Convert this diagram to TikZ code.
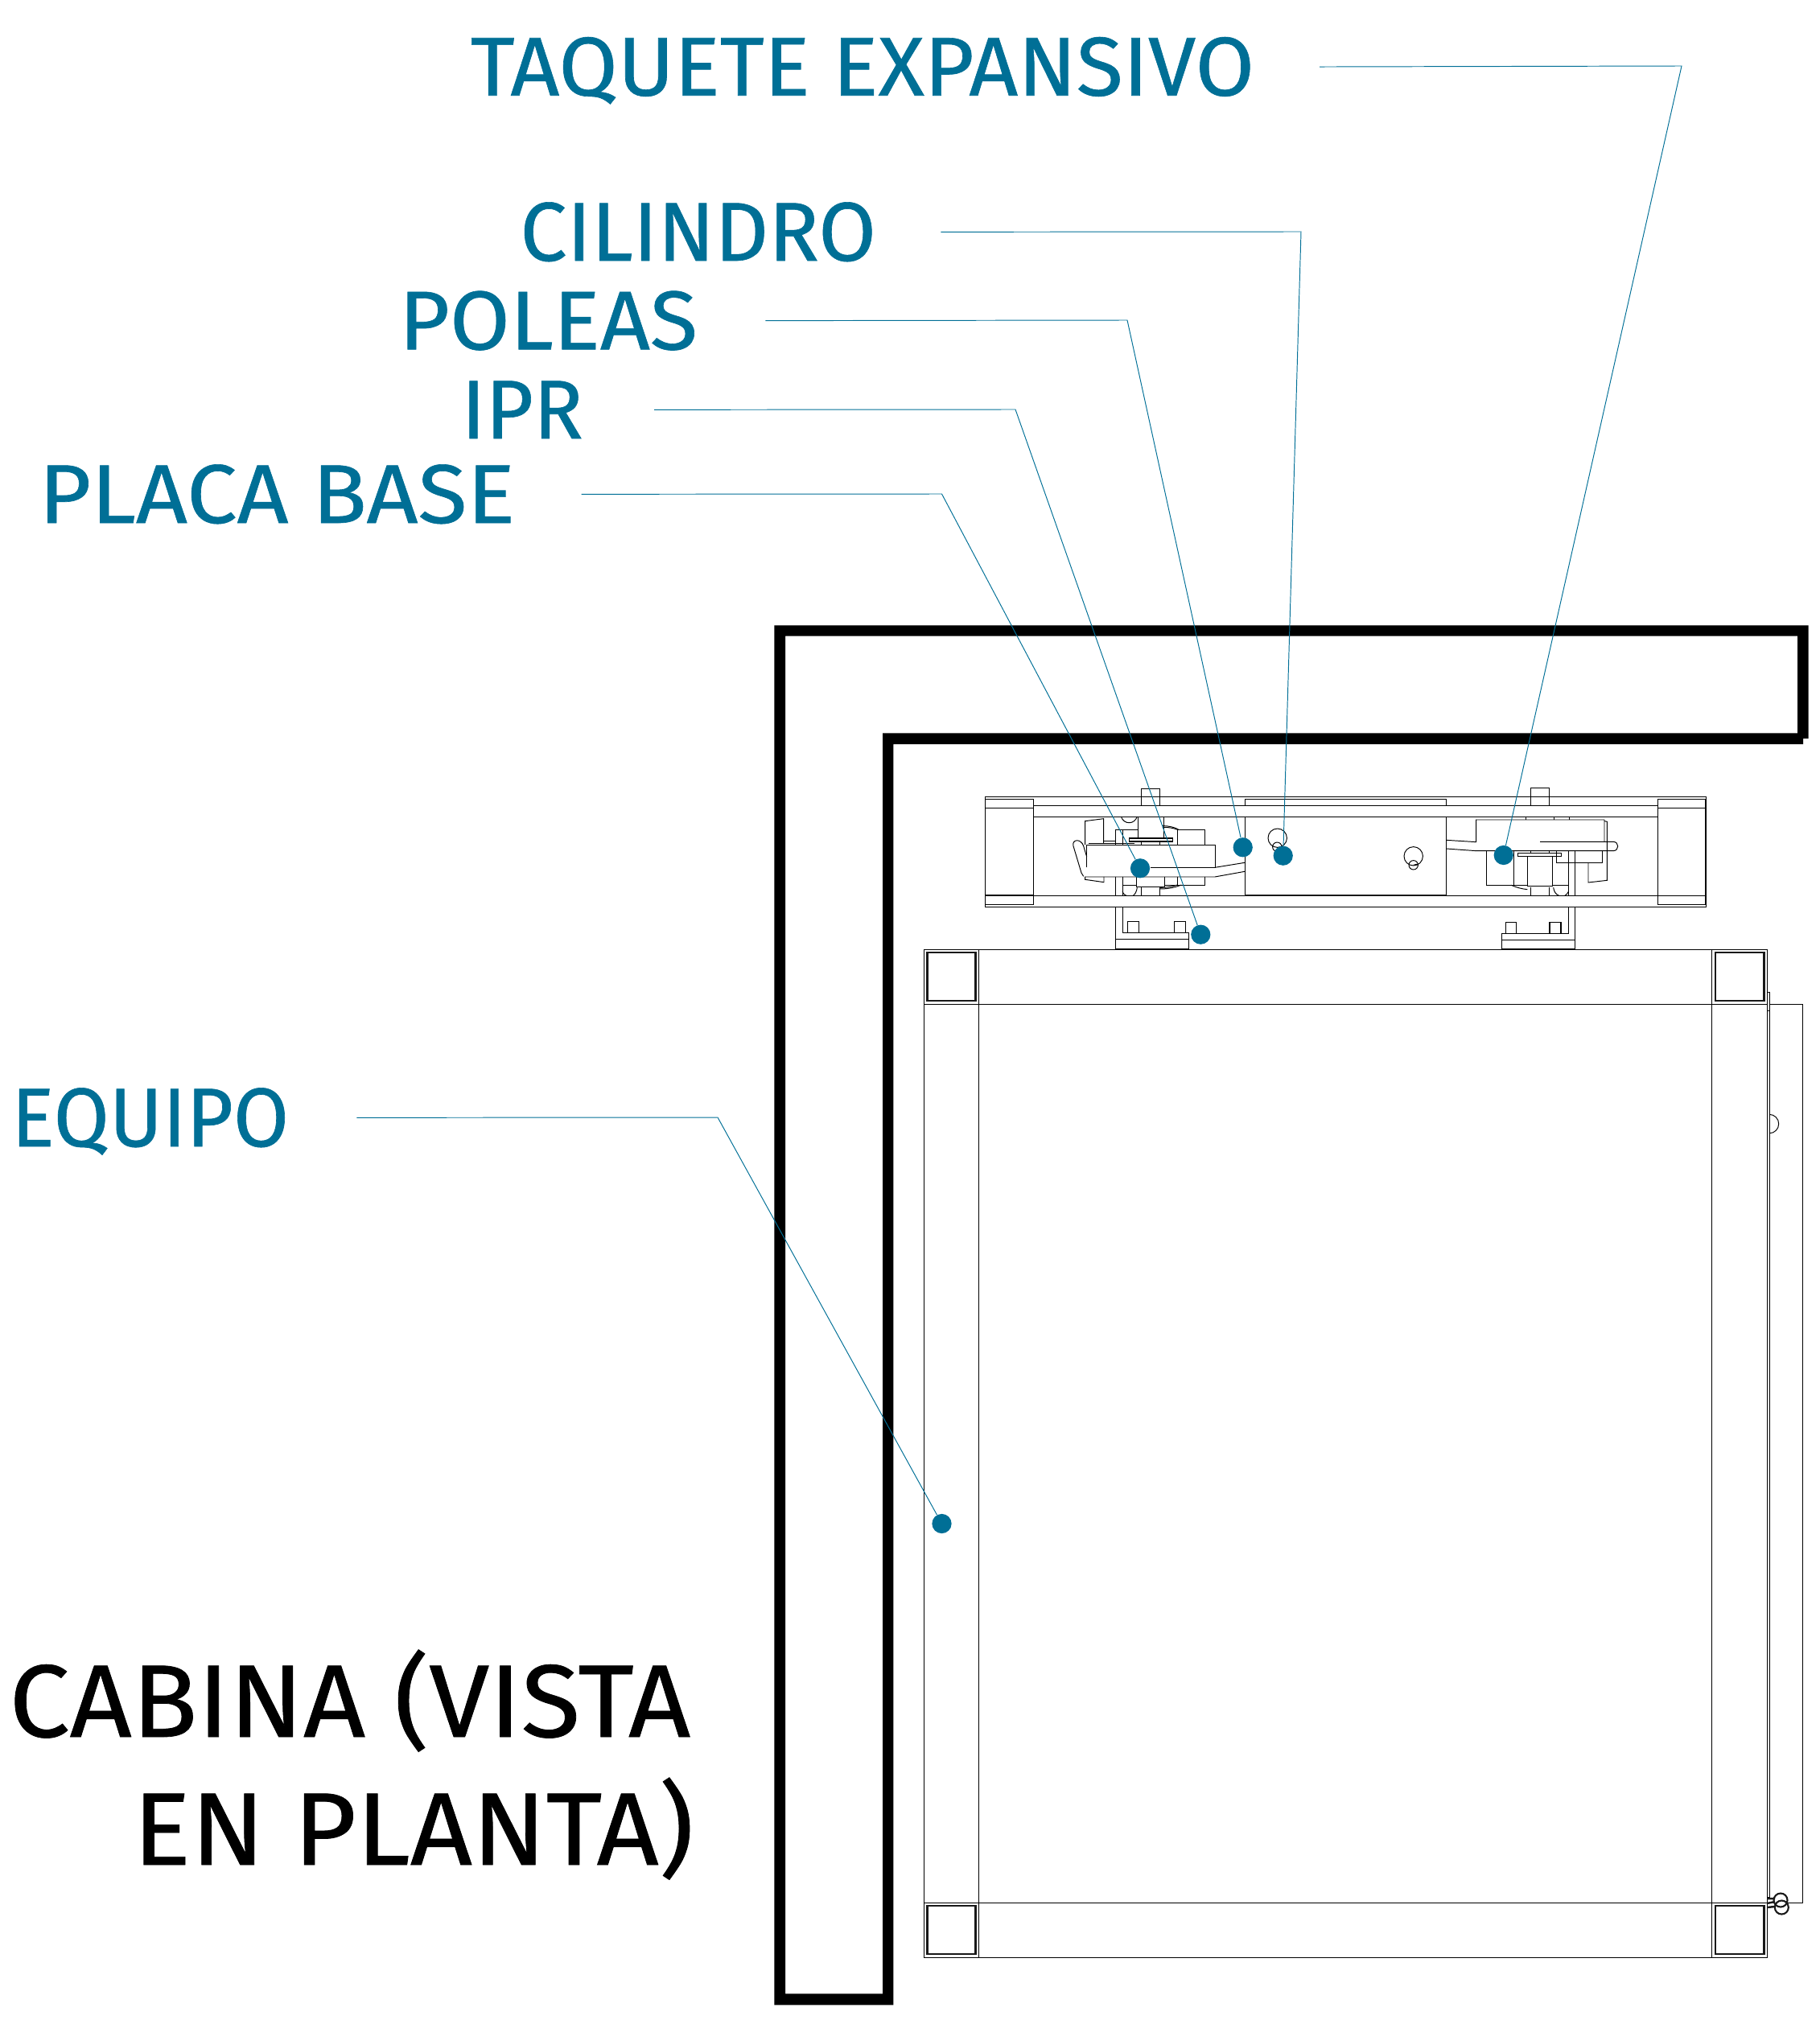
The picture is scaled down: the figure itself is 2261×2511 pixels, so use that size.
\documentclass[tikz,border=0pt]{standalone}
\usepackage{fontspec}
\setmainfont{Fira Sans}[BoldFont=Fira Sans,BoldFeatures={FakeBold=0.6}]
\definecolor{labelblue}{HTML}{006F96}
\newcommand{\fitw}[2]{\resizebox{#1pt}{\height}{#2}}
\tikzset{
  thinline/.style={line width=0.55pt,black},
  postline/.style={line width=1.4pt,black!90},
  leader/.style={line width=0.55pt,labelblue},
  dot/.style={circle,fill=labelblue,inner sep=0pt,minimum size=13.8pt},
  lbl/.style={anchor=base west,inner sep=0pt,text height=40.6pt,text depth=0pt,text=labelblue,font=\fontsize{59}{59}\selectfont\bfseries},
  title/.style={anchor=base west,inner sep=0pt,font=\fontsize{73}{73}\selectfont\bfseries}
}
\begin{document}
\begin{tikzpicture}[x=0.02cm,y=-0.02cm]
  \useasboundingbox (0,0) rectangle (2261,2511);
  % wall
  \fill[black,even odd rule] (962.3,777.3) -- (2247.7,777.3) -- (2247.7,918) -- (2241,918) -- (2241,925) -- (1110.3,925) -- (1110.3,2492.3) -- (962.3,2492.3) -- cycle
    (976,790.7) -- (2234,790.7) -- (2234,911.3) -- (1097,911.3) -- (1097,2478.3) -- (976,2478.3) -- cycle;
  % cabin
  \draw[thinline] (1148.3,1180) rectangle (2196,2433.7);
  \draw[thinline] (1216.7,1180) -- (1216.7,2433.7);
  \draw[thinline] (2127.7,1180) -- (2127.7,2433.7);
  \draw[thinline] (1148.3,1248) -- (2196,1248);
  \draw[thinline] (1148.3,2365) -- (2196,2365);
  \draw[postline] (1152.7,1184) rectangle (1212.7,1244);
  \draw[postline] (2131.7,1184) rectangle (2192.3,1244);
  \draw[postline] (1152.7,2369) rectangle (1212.7,2429);
  \draw[postline] (2131.7,2369) rectangle (2192.3,2429);
  % door
  \draw[thinline] (2199,1233.3) -- (2199,2358) -- (2196,2358);
  \draw[thinline] (2196,1233.3) -- (2199,1233.3);
  \draw[thinline] (2199,1248) -- (2240.3,1248) -- (2240.3,2365) -- (2220,2365);
  \draw[thinline] (2199,1385.3) arc (-90:90:11.7);
  \draw[thinline] (2196,1256.7) -- (2199,1256.7);
  \draw[postline,line width=1.2pt] (2213,2362) circle (8.5);
  \draw[postline,line width=1.2pt] (2214.3,2371) circle (8.5);
  \draw[postline] (2196,2360) -- (2206,2360) (2196,2366) -- (2206,2364) (2196,2371) -- (2206,2370);
  % rail
  \draw[thinline] (1224.3,990.7) rectangle (2120,1127);
  \draw[thinline] (1284.3,1001) -- (2060,1001);
  \draw[thinline] (1284.3,1015) -- (2060,1015);
  \draw[thinline] (1224.3,1113) -- (2120,1113);
  \draw[thinline] (1224.3,993.3) rectangle (1284.3,1124);
  \draw[thinline] (1224.3,1004) -- (1284.3,1004);
  \draw[thinline] (1224.3,1112) -- (1284.3,1112);
  \draw[thinline] (2060,993.3) rectangle (2119.5,1124);
  \draw[thinline] (2060,1004) -- (2119.5,1004);
  % cylinder
  \draw[thinline] (1547,1001) -- (1547,993.3) -- (1797,993.3) -- (1797,1001);
  \draw[thinline] (1547,1015) -- (1547,1113);
  \draw[thinline] (1797,1015) -- (1797,1113);
  \draw[postline,line width=0.9pt] (1547,1113) -- (1797,1113);
  \draw[thinline] (1587.7,1041.7) circle (11.7);
  \draw[thinline] (1587.3,1052.7) circle (5.7);
  \draw[thinline] (1756.7,1064.3) circle (11.7);
  \draw[thinline] (1756.7,1075.3) circle (5.7);
  \draw[thinline] (1756.7,1075.3) -- (1762,1074);
  % left pulley
  \begin{scope}[shift={(1200,950)},scale=0.3333]
    \draw[thinline] (655,153) -- (655,92) -- (724,92) -- (724,153);
    \draw[thinline] (643,195) -- (643,276);
    \draw[thinline] (739,195) -- (739,276);
    \draw[thinline] (580,195) .. controls (590,226) and (630,226) .. (640,195);
    \draw[thinline] (559,301) -- (559,244) -- (643,244);
    \draw[thinline] (585,244) -- (585,301);
    \draw[thinline] (790,301) -- (790,244) -- (893,244) -- (893,301);
    \draw[thinline] (735,230) .. controls (760,230) and (780,235) .. (795,244);
    \draw[thinline] (735,235) .. controls (760,235) and (775,238) .. (790,244);
    \draw[thinline,line width=0.9pt] (610,276) rectangle (773,288);
    \draw[thinline] (655,288) -- (655,301);
    \draw[thinline] (724,288) -- (724,301);
    \draw[thinline] (452,385) -- (452,301) -- (930,301) -- (930,385) -- (690,385);
    \draw[thinline] (930,385) -- (1041,367);
    \draw[thinline] (1041,400) -- (930,420) -- (445,420);
    \draw[thinline] (440,418) -- (432,405) -- (402,305) .. controls (395,280) and (430,275) .. (440,305) -- (452,345);
    \draw[thinline] (446,300) -- (446,212) -- (515,203) -- (515,295);
    \draw[thinline] (446,420) -- (446,430) -- (516,440) -- (516,420);
    \draw[thinline] (515,287) -- (559,287);
    \draw[thinline] (458,295) -- (630,295);
    \draw[thinline] (638,420) -- (638,457) -- (743,457) -- (743,420);
    \draw[thinline] (655,457) -- (655,489);
    \draw[thinline] (724,457) -- (724,489);
    \draw[thinline] (559,420) -- (559,489);
    \draw[thinline] (585,420) -- (585,489);
    \draw[thinline] (585,450) -- (638,450);
    \draw[thinline] (585,475) .. controls (590,485) and (595,489) .. (600,490);
    \draw[thinline] (640,460) .. controls (638,475) and (632,485) .. (625,490);
    \draw[thinline] (893,420) -- (893,450) -- (743,450);
    \draw[thinline] (790,420) -- (790,450);
    \draw[thinline] (725,465) .. controls (760,465) and (785,458) .. (805,450);
    \draw[thinline] (725,460) .. controls (755,460) and (775,455) .. (790,450);
    \draw[thinline] (559,531) -- (559,689) -- (833,689) -- (833,628) -- (585,628) -- (585,531);
    \draw[thinline,line width=0.9pt] (559,652) -- (833,652);
    \draw[thinline] (604,628) -- (604,587) -- (647,587) -- (647,628);
    \draw[thinline] (779,628) -- (779,587) -- (821,587) -- (821,628);
  \end{scope}
  % right pulley
  \begin{scope}[shift={(1700,950)},scale=0.3333]
    \draw[thinline] (608,153) -- (608,88) -- (677,88) -- (677,153);
    \draw[thinline] (293,283) -- (404,290) -- (404,207) -- (882,207) -- (882,290);
    \draw[thinline] (293,315) -- (404,323) -- (915,323) .. controls (938,323) and (938,289) .. (915,289) -- (642,289);
    \draw[thinline] (588,195) -- (588,207);
    \draw[thinline] (694,195) -- (694,207);
    \draw[thinline] (750,195) -- (750,207);
    \draw[thinline] (882,212) -- (892,214) -- (892,433) -- (822,441) -- (822,367);
    \draw[thinline,line width=0.9pt] (560,331) rectangle (722,343);
    \draw[thinline] (595,343) -- (595,455) -- (689,455) -- (689,343);
    \draw[thinline] (608,323) -- (608,331);
    \draw[thinline] (677,323) -- (677,331);
    \draw[thinline] (608,458) -- (608,489);
    \draw[thinline] (677,458) -- (677,489);
    \draw[thinline] (441,323) -- (441,451) -- (595,451);
    \draw[thinline] (543,323) -- (543,451);
    \draw[thinline] (535,451) .. controls (555,460) and (575,465) .. (595,467);
    \draw[thinline] (704,323) -- (704,367) -- (875,367) -- (875,323);
    \draw[thinline] (748,323) -- (748,489);
    \draw[thinline] (772,323) -- (772,489);
    \draw[thinline] (689,451) -- (748,451);
    \draw[thinline] (692,460) .. controls (695,478) and (703,487) .. (712,489);
    \draw[thinline] (748,475) .. controls (745,483) and (740,487) .. (735,489);
    \draw[thinline] (772,531) -- (772,689) -- (500,689) -- (500,630) -- (748,630) -- (748,531);
    \draw[thinline,line width=0.9pt] (500,655) -- (772,655);
    \draw[thinline] (514,631) -- (514,590) -- (554,590) -- (554,631);
    \draw[thinline,line width=0.9pt] (678,631) -- (678,590) -- (720,590) -- (720,631);
  \end{scope}
  % labels
  \node[lbl] (taquete) at (584.4,118.7) {\fitw{554.5}{TAQUETE EXPANSIVO}};
  \node[lbl] (cilindro) at (646,324) {\fitw{251.9}{CILINDRO}};
  \node[lbl] (poleas) at (495.6,434.3) {\fitw{211.2}{POLEAS}};
  \node[lbl] (ipr) at (573,545) {\fitw{86.2}{IPR}};
  \node[lbl] (placa) at (48,650) {\fitw{336.8}{PLACA BASE}};
  \node[lbl] (equipo) at (13.7,1425) {\fitw{196.4}{EQUIPO}};
  \node[title] (cabinaa) at (11,2159) {\fitw{481.9}{CABINA (VISTA}};
  \node[title] (cabinab) at (165,2318) {\fitw{396.6}{EN PLANTA)}};
  % dots
  \node[dot] (dottaquete) at (1868.7,1063) {};
  \node[dot] (dotcilindro) at (1594.7,1063.7) {};
  \node[dot] (dotpoleas) at (1544.7,1053.3) {};
  \node[dot] (dotipr) at (1492.3,1161.7) {};
  \node[dot] (dotplaca) at (1417,1079.3) {};
  \node[dot] (dotequipo) at (1170.5,1894) {};
  % leaders
  \draw[leader] (taquete.east) ++(80.6,0) -- (2090,82) -- (dottaquete);
  \draw[leader] (cilindro.east) ++(80,0) -- (1617,288) -- (dotcilindro);
  \draw[leader] (poleas.east) ++(84,0) -- (1401,398) -- (dotpoleas);
  \draw[leader] (ipr.east) ++(88,0) -- (1262,509) -- (dotipr);
  \draw[leader] (placa.east) ++(82,0) -- (1170.5,614) -- (dotplaca);
  \draw[leader] (equipo.east) ++(84,0) -- (892,1389) -- (dotequipo);
\end{tikzpicture}
\end{document}
